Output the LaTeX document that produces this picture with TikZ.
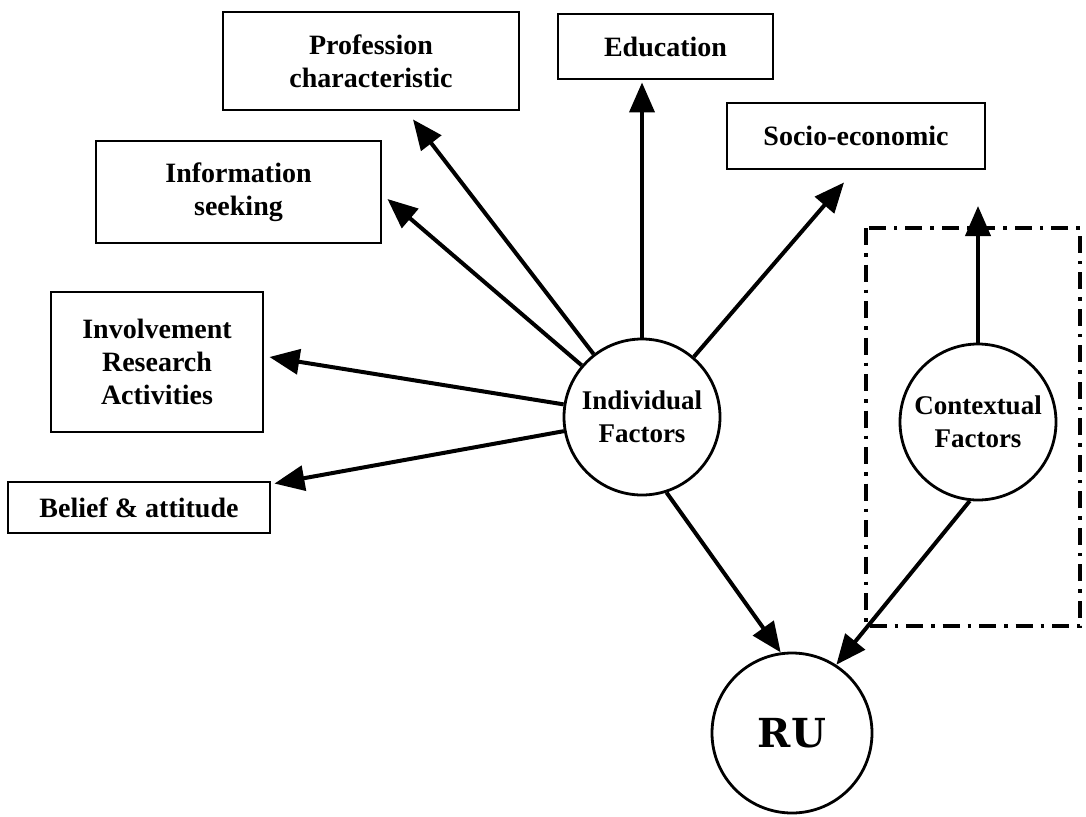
\documentclass[tikz,border=0pt]{standalone}
\usepackage{fontspec}
\setmainfont{Liberation Serif}
\newfontfamily\rufont{DejaVu Serif}
\usetikzlibrary{arrows.meta}
\begin{document}
\begin{tikzpicture}[x=1pt,y=-1pt,
  factor/.style={draw, line width=2.9pt, align=center, inner sep=0pt,
    font=\bfseries\fontsize{28}{33}\selectfont},
  circ/.style={draw, circle, line width=2.8pt, inner sep=0pt, align=center,
    font=\bfseries\fontsize{27}{33}\selectfont},
  link/.style={line width=4pt, -{Triangle[length=30pt,width=25pt]}},
  frame/.style={line width=3.6pt, dash pattern=on 17pt off 8pt on 3.5pt off 8pt}]
\useasboundingbox (0,0) rectangle (1086,816);

% individual factor boxes
\node[factor, minimum width=296pt, minimum height=98pt] (prof) at (371,61) {Profession\\characteristic};
\node[factor, minimum width=285pt, minimum height=102pt] (info) at (238.5,192) {Information\\seeking};
\node[factor, minimum width=215pt, minimum height=65pt] (edu) at (665.5,46.5) {Education};
\node[factor, minimum width=258pt, minimum height=66pt] (socio) at (856,136) {Socio-economic};
\node[factor, minimum width=212pt, minimum height=140pt] (inv) at (157,362) {Involvement\\Research\\Activities};
\node[factor, minimum width=262pt, minimum height=51pt] (belief) at (139,507.5) {Belief \& attitude};

% contextual frame
\draw[frame] (866,228) rectangle (1080,626);

% circles
\node[circ, minimum size=156pt] (ind) at (642,417) {Individual\\Factors};
\node[circ, minimum size=156pt] (ctx) at (978,422) {Contextual\\Factors};
\node[circ, minimum size=160pt, font=\rufont\bfseries\fontsize{40}{40}\selectfont] (ru) at (792,733) {RU};
\coordinate (ctxup) at (978,206);

% connectors
\draw[link] (ind) -- ([xshift=42pt,yshift=-8pt]prof.south);
\draw[link] (ind) -- ([xshift=5pt,yshift=-7pt]info.east);
\draw[link] (ind) -- ([xshift=-23.5pt,yshift=-2pt]edu.south);
\draw[link] (ind) -- ([xshift=-12pt,yshift=-12pt]socio.south);
\draw[link] (ind) -- ([xshift=5pt,yshift=5pt]inv.east);
\draw[link] (ind) -- ([xshift=3pt,yshift=-3pt]belief.north east);
\draw[link] (ind.-72) -- (ru.98);
\draw[link] (ctx.-96) -- (ru.57);
\draw[link] (ctx) -- (ctxup);
\end{tikzpicture}
\end{document}
